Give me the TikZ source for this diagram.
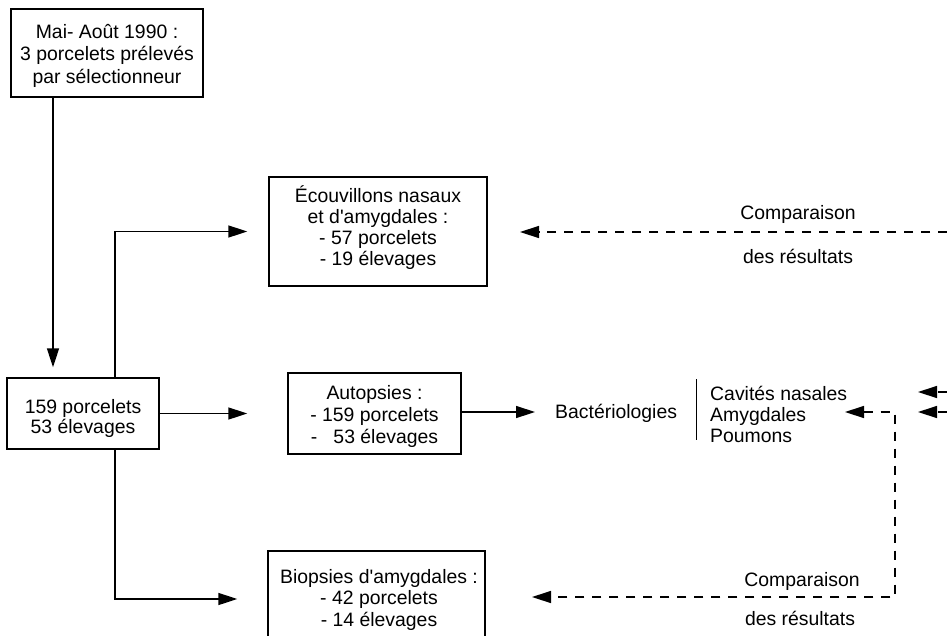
\documentclass[tikz,border=0pt]{standalone}
\usepackage{fontspec}
\setmainfont{Liberation Sans}
\usetikzlibrary{arrows.meta}
\begin{document}
\begin{tikzpicture}[x=1pt,y=-1pt,
  box/.style={draw,line width=1.4pt,inner sep=0pt},
  txt/.style={inner sep=0pt,align=center,font=\fontsize{19.4}{21.5}\selectfont},
  lbl/.style={inner sep=0pt,font=\fontsize{19.4}{21.5}\selectfont},
  conn/.style={line width=1.4pt,-{Triangle[length=19pt,width=12pt]}},
  dconn/.style={line width=1.4pt,dash pattern=on 9pt off 8pt,-{Triangle[length=19pt,width=12pt]}}]
\useasboundingbox (0,0) rectangle (947,635);
% boxes
\node[box,minimum width=192pt,minimum height=88pt] (top) at (107,53) {};
\node[txt,font=\fontsize{19.4}{22.5}\selectfont] (toptxt) at (107,55.5) {Mai- Août 1990 :\\3 porcelets prélevés\\par sélectionneur};
\node[box,minimum width=152pt,minimum height=71pt] (mid) at (83,413.5) {};
\node[txt,font=\fontsize{19.4}{20}\selectfont] (midtxt) at (83,418) {159 porcelets\\53 élevages};
\node[box,minimum width=218pt,minimum height=109pt] (ecou) at (378,231.5) {};
\node[txt,font=\fontsize{19.4}{21}\selectfont] (ecoutxt) at (378,227.5) {Écouvillons nasaux\\et d\textquotesingle amygdales :\\- 57 porcelets\\- 19 élevages};
\node[box,minimum width=173pt,minimum height=81pt] (autop) at (374.5,413.5) {};
\node[txt,font=\fontsize{19.4}{22}\selectfont] (autoptxt) at (374.5,416) {Autopsies :\\- 159 porcelets\\-\ \ \ 53 élevages};
\node[box,minimum width=217pt,minimum height=96pt] (biop) at (376.5,599) {};
\node[txt] (bioptxt) at (379,599.5) {Biopsies d\textquotesingle amygdales :\\- 42 porcelets\\- 14 élevages};
% text nodes
\node[lbl,anchor=west] (bact) at (555,413) {Bactériologies};
\node[lbl,anchor=west,align=left,font=\fontsize{19.4}{21}\selectfont] (organs) at (710,414) {Cavités nasales\\Amygdales\\Poumons};
\node[lbl] (comp1) at (798,214) {Comparaison};
\node[lbl] (res1) at (798,256) {des résultats};
\node[lbl] (comp2) at (802,581) {Comparaison};
\node[lbl] (res2) at (800,618) {des résultats};
% helper coordinates
\coordinate (xa) at (53,0);
\coordinate (xb) at (115,0);
\coordinate (barT) at (696,379);
\coordinate (barB) at (696,440);
\coordinate (edge1) at (947,232);
\coordinate (tip1) at (520,232);
\coordinate (edge2) at (947,392);
\coordinate (tip2) at (918,392);
\coordinate (edge3) at (947,412);
\coordinate (tip3) at (918,412);
\coordinate (tip4) at (845,412);
\coordinate (turn) at (895,597);
\coordinate (tip5) at (532,597);
\coordinate (bacttip) at (535,412);
% solid connectors
\draw[conn,shorten >=10pt] (top.south -| xa) -- (mid.north -| xa);
\draw[conn] (mid.north -| xb) |- ([xshift=-21pt]ecou.west);
\draw[conn,shorten >=40pt] (mid.east) -- (autop.west);
\draw[conn] (autop.east |- bacttip) -- (bacttip);
\draw[conn] (mid.south -| xb) |- ([xshift=-30pt]biop.west);
\draw[line width=1pt] (barT) -- (barB);
% dashed connectors
\draw[dconn] (edge1) -- (tip1);
\draw[dconn] (edge2) -- (tip2);
\draw[dconn] (edge3) -- (tip3);
\draw[dconn,{Triangle[length=19pt,width=12pt]}-{Triangle[length=19pt,width=12pt]}] (tip4) -| (turn) -- (tip5);
\end{tikzpicture}
\end{document}
